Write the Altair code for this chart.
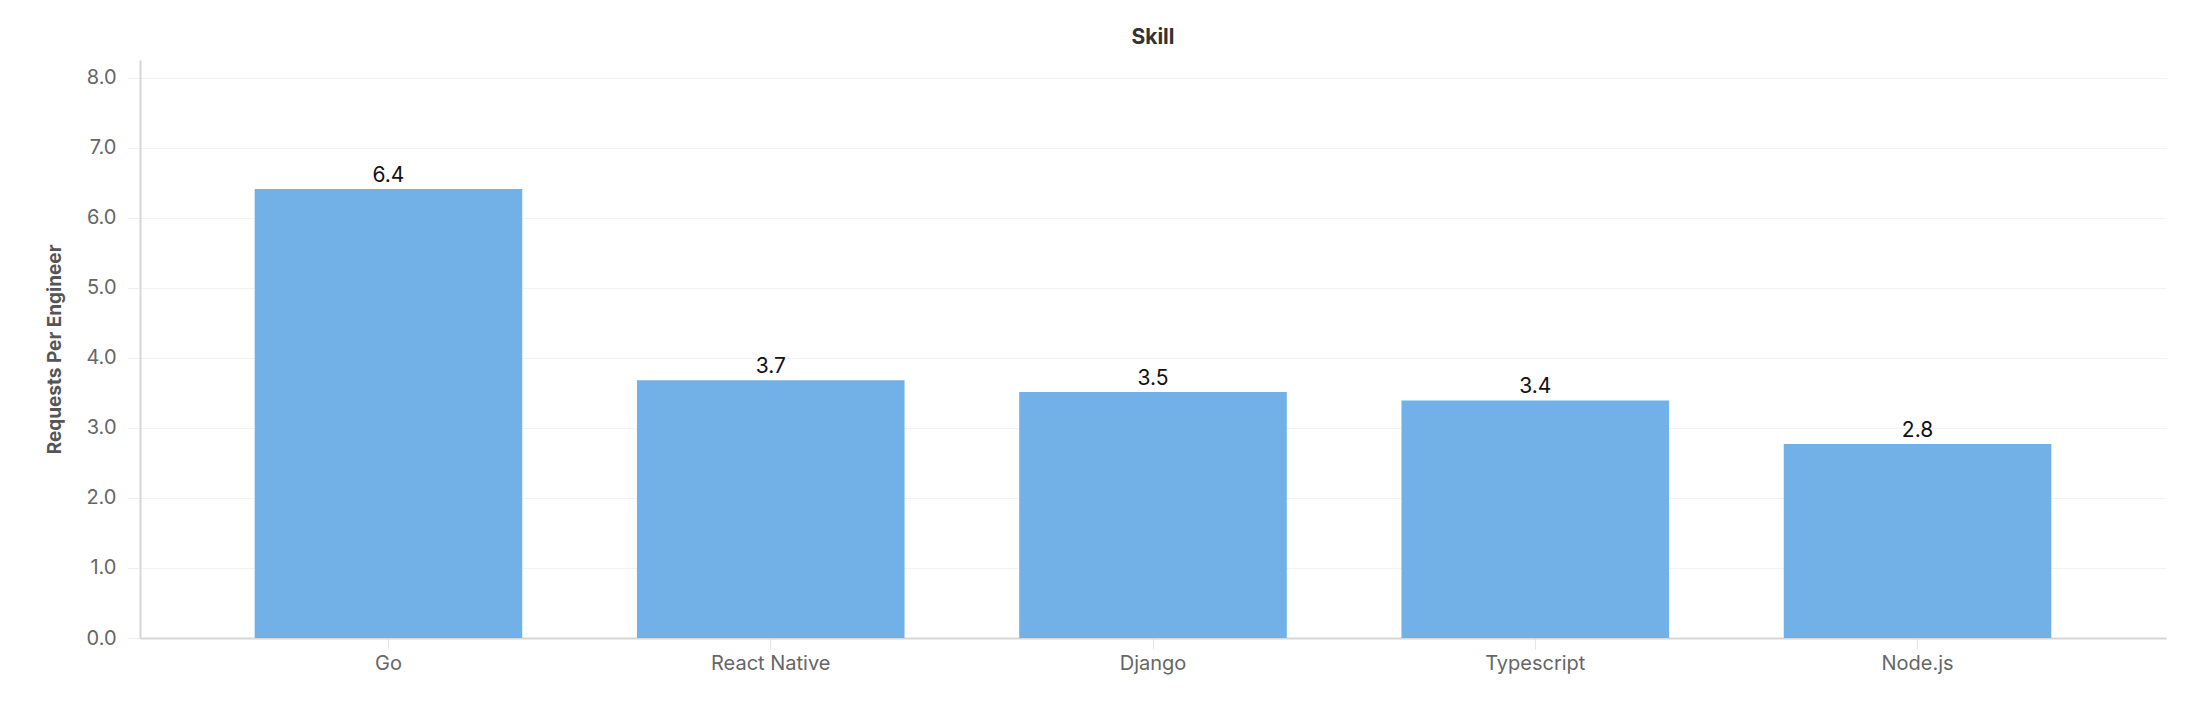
import altair as alt
import pandas as pd

skills = ["Go", "React Native", "Django", "Typescript", "Node.js"]
requests_per_engineer = [6.41, 3.68, 3.51, 3.39, 2.77]
y_ticks = [0, 1, 2, 3, 4, 5, 6, 7, 8]

source = pd.DataFrame({"skill": skills, "value": requests_per_engineer})

FONT = "Inter"

base = alt.Chart(source)

bars = base.mark_bar(color="#71b1e8").encode(
    x=alt.X(
        "skill:N",
        sort=skills,
        title=None,
        scale=alt.Scale(paddingInner=0.3, paddingOuter=0.3),
        axis=alt.Axis(
            labelAngle=0,
            labelFontSize=20,
            labelColor="#666666",
            labelPadding=4,
            tickSize=11,
            tickColor="#e6e6e6",
            domainColor="#d6d6d6",
            domainWidth=2,
            grid=False,
        ),
    ),
    y=alt.Y(
        "value:Q",
        title="Requests Per Engineer",
        scale=alt.Scale(domain=[0, 8.25], nice=False),
        axis=alt.Axis(
            values=y_ticks,
            format=".1f",
            labelFontSize=20,
            labelColor="#666666",
            labelPadding=12,
            tickSize=12,
            tickColor="#eeeeee",
            domainColor="#d6d6d6",
            domainWidth=2,
            gridColor="#f2f2f2",
            titleFontSize=19,
            titleFontWeight="bold",
            titleColor="#555555",
            titleAngle=270,
            titleAlign="center",
            titleBaseline="middle",
            titleX=-86,
            titleY=289,
        ),
    ),
)

labels = base.mark_text(
    baseline="alphabetic", dy=-7, fontSize=21, color="#111111", font=FONT
).encode(
    x=alt.X("skill:N", sort=skills),
    y="value:Q",
    text=alt.Text("value:Q", format=".1f"),
)

chart = (
    (bars + labels)
    .properties(
        width=2026,
        height=578,
        title=alt.TitleParams(
            "Skill",
            anchor="middle",
            fontSize=21,
            fontWeight="bold",
            color="#333333",
            baseline="bottom",
            offset=14,
            dy=23,
            font=FONT,
        ),
        autosize=alt.AutoSizeParams(type="none"),
        padding={"left": 132, "top": 52, "right": 20, "bottom": 56},
    )
    .configure(font=FONT)
    .configure_view(stroke=None)
)

chart.save("out.html", embed_options={"renderer": "svg", "actions": False})
